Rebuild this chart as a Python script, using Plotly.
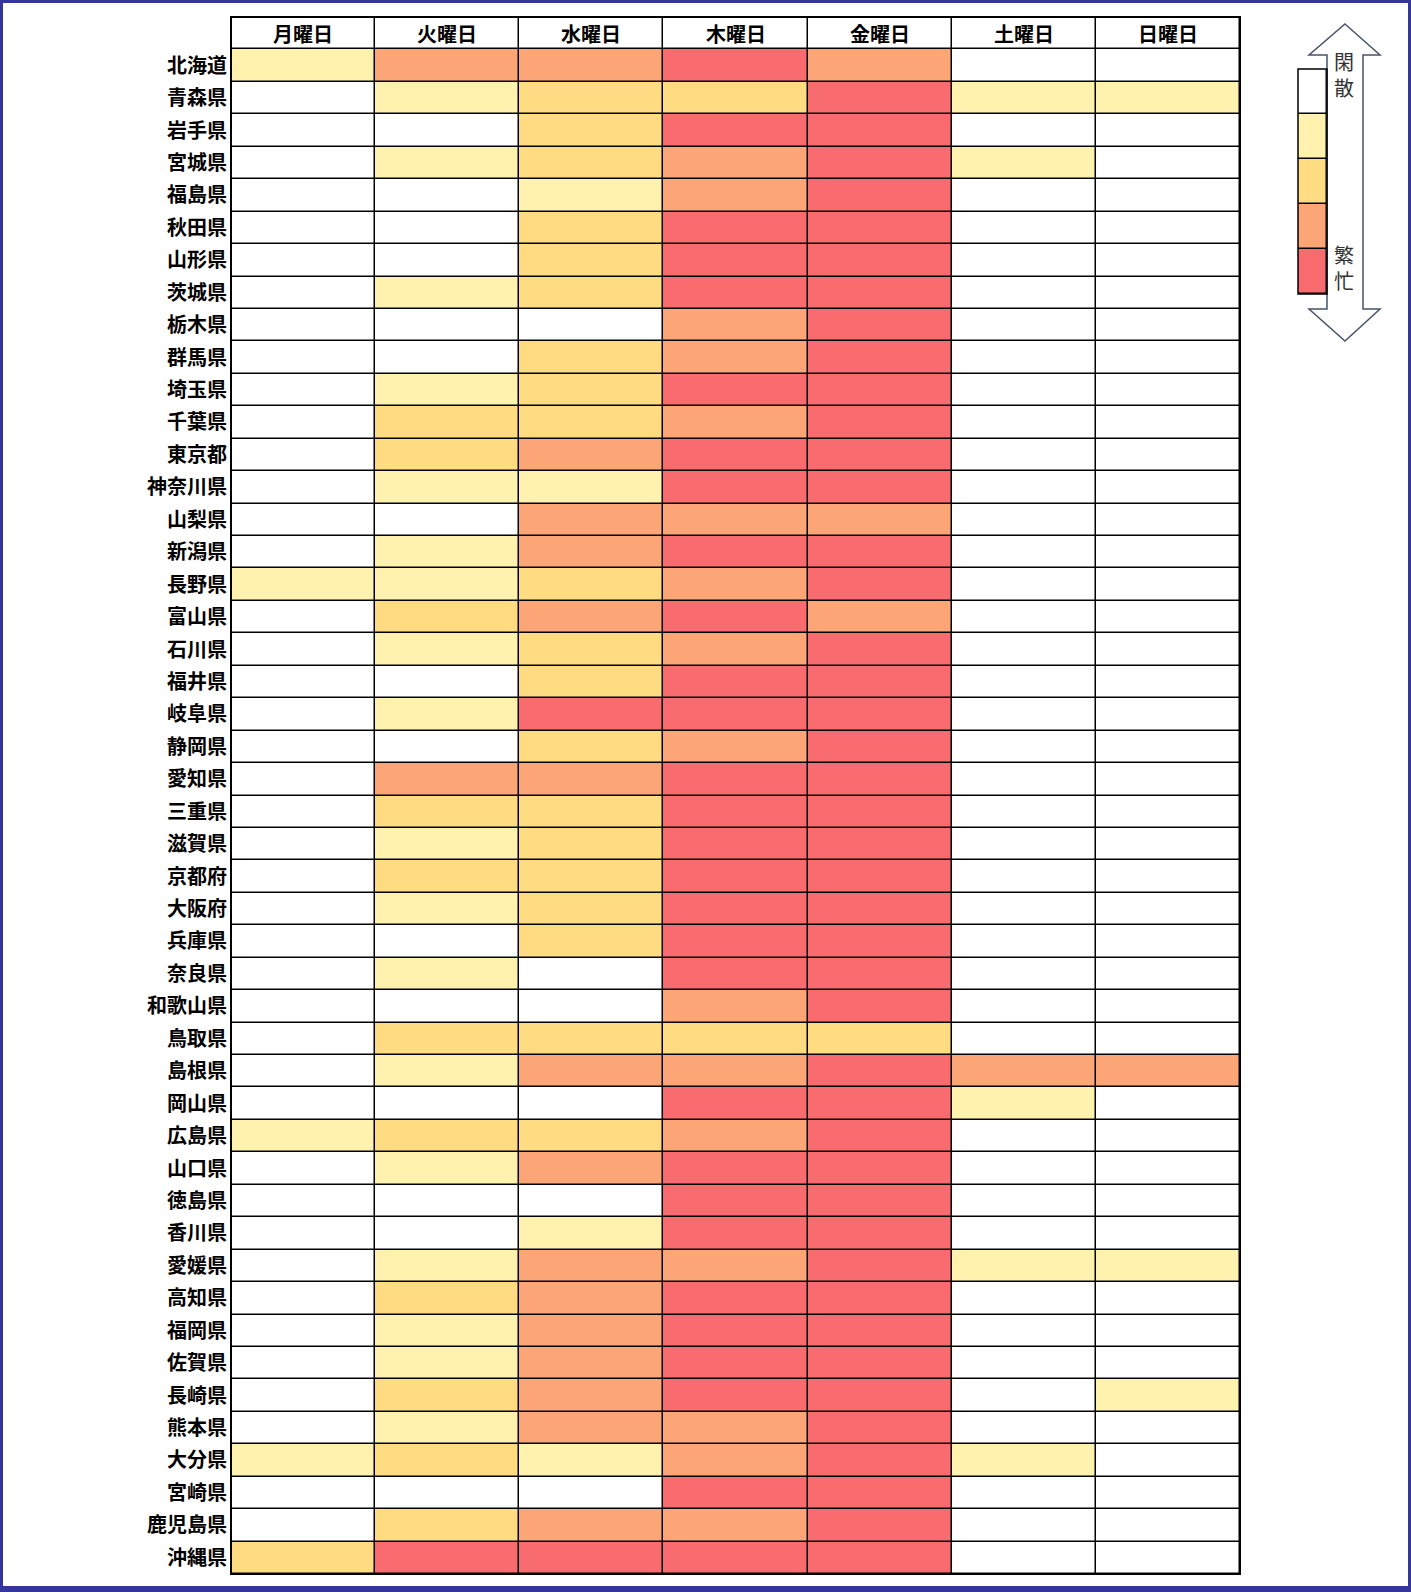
import plotly.graph_objects as go

# ---------------- data ----------------
days = ["月曜日", "火曜日", "水曜日", "木曜日", "金曜日", "土曜日", "日曜日"]

prefectures = [
    "北海道", "青森県", "岩手県", "宮城県", "福島県", "秋田県", "山形県", "茨城県",
    "栃木県", "群馬県", "埼玉県", "千葉県", "東京都", "神奈川県", "山梨県", "新潟県",
    "長野県", "富山県", "石川県", "福井県", "岐阜県", "静岡県", "愛知県", "三重県",
    "滋賀県", "京都府", "大阪府", "兵庫県", "奈良県", "和歌山県", "鳥取県", "島根県",
    "岡山県", "広島県", "山口県", "徳島県", "香川県", "愛媛県", "高知県", "福岡県",
    "佐賀県", "長崎県", "熊本県", "大分県", "宮崎県", "鹿児島県", "沖縄県",
]

# 0 = 閑散 ... 4 = 繁忙
levels = [
    [1, 3, 3, 4, 3, 0, 0],  # 北海道
    [0, 1, 2, 2, 4, 1, 1],  # 青森県
    [0, 0, 2, 4, 4, 0, 0],  # 岩手県
    [0, 1, 2, 3, 4, 1, 0],  # 宮城県
    [0, 0, 1, 3, 4, 0, 0],  # 福島県
    [0, 0, 2, 4, 4, 0, 0],  # 秋田県
    [0, 0, 2, 4, 4, 0, 0],  # 山形県
    [0, 1, 2, 4, 4, 0, 0],  # 茨城県
    [0, 0, 0, 3, 4, 0, 0],  # 栃木県
    [0, 0, 2, 3, 4, 0, 0],  # 群馬県
    [0, 1, 2, 4, 4, 0, 0],  # 埼玉県
    [0, 2, 2, 3, 4, 0, 0],  # 千葉県
    [0, 2, 3, 4, 4, 0, 0],  # 東京都
    [0, 1, 1, 4, 4, 0, 0],  # 神奈川県
    [0, 0, 3, 3, 3, 0, 0],  # 山梨県
    [0, 1, 3, 4, 4, 0, 0],  # 新潟県
    [1, 1, 2, 3, 4, 0, 0],  # 長野県
    [0, 2, 3, 4, 3, 0, 0],  # 富山県
    [0, 1, 2, 3, 4, 0, 0],  # 石川県
    [0, 0, 2, 4, 4, 0, 0],  # 福井県
    [0, 1, 4, 4, 4, 0, 0],  # 岐阜県
    [0, 0, 2, 3, 4, 0, 0],  # 静岡県
    [0, 3, 3, 4, 4, 0, 0],  # 愛知県
    [0, 2, 2, 4, 4, 0, 0],  # 三重県
    [0, 1, 2, 4, 4, 0, 0],  # 滋賀県
    [0, 2, 2, 4, 4, 0, 0],  # 京都府
    [0, 1, 2, 4, 4, 0, 0],  # 大阪府
    [0, 0, 2, 4, 4, 0, 0],  # 兵庫県
    [0, 1, 0, 4, 4, 0, 0],  # 奈良県
    [0, 0, 0, 3, 4, 0, 0],  # 和歌山県
    [0, 2, 2, 2, 2, 0, 0],  # 鳥取県
    [0, 1, 3, 3, 4, 3, 3],  # 島根県
    [0, 0, 0, 4, 4, 1, 0],  # 岡山県
    [1, 2, 2, 3, 4, 0, 0],  # 広島県
    [0, 1, 3, 4, 4, 0, 0],  # 山口県
    [0, 0, 0, 4, 4, 0, 0],  # 徳島県
    [0, 0, 1, 4, 4, 0, 0],  # 香川県
    [0, 1, 3, 3, 4, 1, 1],  # 愛媛県
    [0, 2, 3, 4, 4, 0, 0],  # 高知県
    [0, 1, 3, 4, 4, 0, 0],  # 福岡県
    [0, 1, 3, 4, 4, 0, 0],  # 佐賀県
    [0, 2, 3, 4, 4, 0, 1],  # 長崎県
    [0, 1, 3, 3, 4, 0, 0],  # 熊本県
    [1, 2, 1, 3, 4, 1, 0],  # 大分県
    [0, 0, 0, 4, 4, 0, 0],  # 宮崎県
    [0, 2, 3, 3, 4, 0, 0],  # 鹿児島県
    [2, 4, 4, 4, 4, 0, 0],  # 沖縄県
]

level_colors = ["#FFFFFF", "#FFF2AE", "#FFDC82", "#FCA577", "#F86B6E"]
legend_levels = [0, 1, 2, 3, 4]
legend_top_label = "閑<br>散"
legend_bottom_label = "繁<br>忙"

# ---------------- layout geometry ----------------
W, H = 1411, 1592
L, R, T, B = 231, 11, 17, 18
PW, PH = W - L - R, H - T - B


def px2x(px):
    return (px - L) / PW


def py2y(py):
    return 1 - (py - T) / PH


FONT = "Noto Sans CJK JP"

n = len(level_colors)
colorscale = []
for i, c in enumerate(level_colors):
    colorscale.append([i / n, c])
    colorscale.append([(i + 1) / n, c])

# header row (white) + data rows
z_main = [[0] * len(days)] + levels
y_idx = list(range(len(z_main)))
x_idx = list(range(len(days)))

fig = go.Figure()
fig.add_trace(go.Heatmap(
    z=z_main, x=x_idx, y=y_idx,
    colorscale=colorscale, zmin=-0.5, zmax=n - 0.5,
    showscale=False, xgap=1.5, ygap=1.5, hoverinfo="skip",
    xaxis="x", yaxis="y",
))

fig.add_trace(go.Heatmap(
    z=[[v] for v in legend_levels], x=[0], y=list(range(len(legend_levels))),
    colorscale=colorscale, zmin=-0.5, zmax=n - 0.5,
    showscale=False, xgap=1.5, ygap=1.5, hoverinfo="skip",
    xaxis="x2", yaxis="y2",
))

annotations = []
for i, d in enumerate(days):
    annotations.append(dict(
        x=i, y=0, xref="x", yref="y", text=d, showarrow=False,
        xanchor="center", yanchor="middle",
        font=dict(family=FONT, size=20, color="#000000", weight="bold"),
    ))

annotations.append(dict(
    x=px2x(1344), y=py2y(74), xref="paper", yref="paper", text=legend_top_label,
    showarrow=False, align="center", xanchor="center", yanchor="middle",
    font=dict(family=FONT, size=20, color="#333333"),
))
annotations.append(dict(
    x=px2x(1344), y=py2y(267), xref="paper", yref="paper", text=legend_bottom_label,
    showarrow=False, align="center", xanchor="center", yanchor="middle",
    font=dict(family=FONT, size=20, color="#333333"),
))

# double-headed arrow (outline)
arrow_pts = [(1345, 24), (1380, 55), (1363, 55), (1363, 309), (1380, 309),
             (1345, 341), (1309, 309), (1327, 309), (1327, 55), (1309, 55)]
path = "M " + " L ".join(f"{px2x(a):.5f},{py2y(b):.5f}" for a, b in arrow_pts) + " Z"

shapes = [
    dict(type="path", path=path, xref="paper", yref="paper",
         line=dict(color="#44546A", width=1.5), fillcolor="rgba(255,255,255,0)",
         layer="below"),
    dict(type="rect", xref="x domain", yref="y domain", x0=0, x1=1, y0=0, y1=1,
         line=dict(color="#000000", width=2), fillcolor="rgba(0,0,0,0)"),
    dict(type="rect", xref="x2 domain", yref="y2 domain", x0=0, x1=1, y0=0, y1=1,
         line=dict(color="#000000", width=1.5), fillcolor="rgba(0,0,0,0)"),
]
# outer blue frame
frame = "#35359A"
for (x0, x1, y0, y1) in [(0, W, 0, 3), (0, W, H - 6, H), (0, 3, 0, H), (W - 3, W, 0, H)]:
    shapes.append(dict(type="rect", xref="paper", yref="paper",
                       x0=px2x(x0), x1=px2x(x1), y0=py2y(y0), y1=py2y(y1),
                       line=dict(width=0), fillcolor=frame))

fig.update_layout(
    width=W, height=H,
    margin=dict(l=L, r=R, t=T, b=B),
    paper_bgcolor="#FFFFFF", plot_bgcolor="#000000",
    xaxis=dict(domain=[0, px2x(1240)], range=[-0.5, len(days) - 0.5],
               showticklabels=False, showgrid=False, zeroline=False, fixedrange=True),
    yaxis=dict(domain=[0, 1], range=[len(z_main) - 0.5, -0.5],
               tickvals=y_idx[1:], ticktext=prefectures, ticks="",
               ticklabelstandoff=3,
               showgrid=False, zeroline=False,
               tickfont=dict(family=FONT, size=20, color="#000000", weight="bold")),
    xaxis2=dict(domain=[px2x(1298), px2x(1327)], range=[-0.5, 0.5],
                showticklabels=False, showgrid=False, zeroline=False, anchor="y2"),
    yaxis2=dict(domain=[py2y(294), py2y(69)], range=[len(legend_levels) - 0.5, -0.5],
                showticklabels=False, showgrid=False, zeroline=False, anchor="x2"),
    annotations=annotations,
    shapes=shapes,
    showlegend=False,
)

fig.write_html("out.html", config={"displayModeBar": False},
               post_script="document.body.style.margin='0';")
